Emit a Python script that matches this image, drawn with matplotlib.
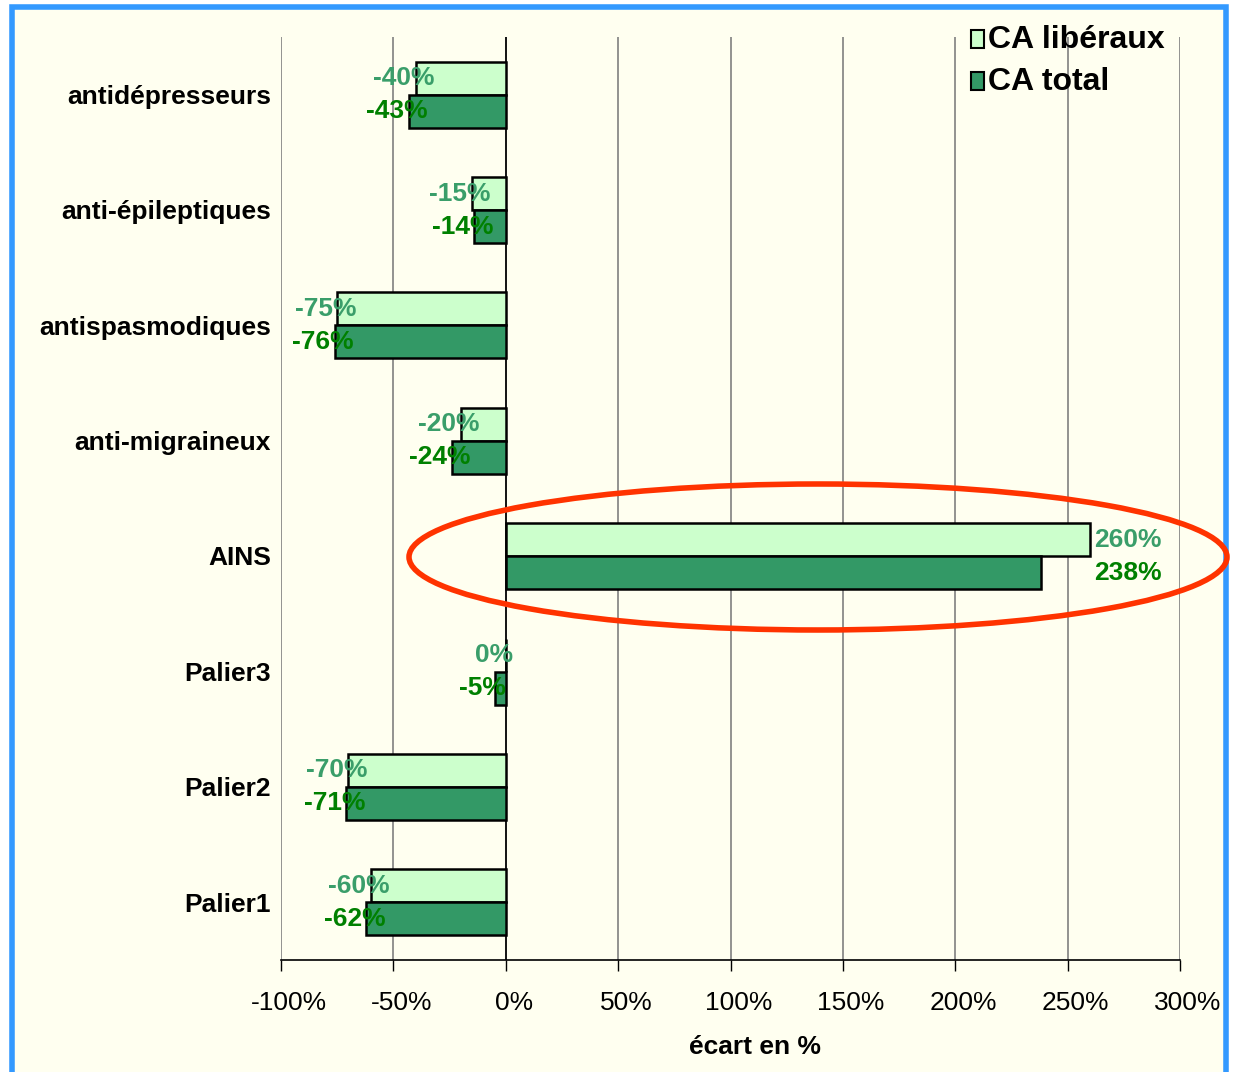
import numpy as np
import matplotlib
matplotlib.use('Agg')
import matplotlib.pyplot as plt
from matplotlib.patches import Rectangle, Ellipse
from matplotlib.transforms import ScaledTranslation

plt.rcParams['font.family'] = ['Liberation Sans', 'DejaVu Sans']

categories = ['antidépresseurs', 'anti-épileptiques', 'antispasmodiques', 'anti-migraineux',
              'AINS', 'Palier3', 'Palier2', 'Palier1']
ca_liberaux = [-40, -15, -75, -20, 260, 0, -70, -60]
ca_total = [-43, -14, -76, -24, 238, -5, -71, -62]
xticks = [-100, -50, 0, 50, 100, 150, 200, 250, 300]

light_fill = '#CCFFCC'
dark_fill = '#339966'
light_txt = '#3A9E6A'
dark_txt = '#008000'

W, H = 1236, 1072
fig = plt.figure(figsize=(W / 100, H / 100), dpi=100)
fig.patch.set_facecolor('white')

# cream panel with blue frame
fig.patches.append(Rectangle((12 / W, -0.01), 1214 / W, 1 - 7 / H + 0.01, transform=fig.transFigure,
                             facecolor='#FFFFF0', edgecolor='#3399FF', linewidth=4, zorder=-10))

ax = fig.add_axes([281 / W, 1 - 960 / H, 899 / W, 923 / H])
ax.set_facecolor('none')

y = np.arange(len(categories))
h = 0.286
lib = np.array(ca_liberaux) / 100
tot = np.array(ca_total) / 100

ax.barh(y - h / 2, lib, height=h, color=light_fill, edgecolor='black', linewidth=1.8, zorder=3)
ax.barh(y + h / 2, tot, height=h, color=dark_fill, edgecolor='black', linewidth=1.8, zorder=3)

fs = 19
for i in range(len(categories)):
    a, b = lib[i], tot[i]
    if max(a, b) > 0.5:
        xp = max(a, b) + 0.02
        ax.text(xp, y[i] - h / 2, f'{ca_liberaux[i]}%', color=light_txt, fontsize=fs, fontweight='bold',
                ha='left', va='center', zorder=4)
        ax.text(xp, y[i] + h / 2, f'{ca_total[i]}%', color=dark_txt, fontsize=fs, fontweight='bold',
                ha='left', va='center', zorder=4)
    else:
        ax.text(a - 0.053, y[i] - h / 2, f'{ca_liberaux[i]}%', color=light_txt, fontsize=fs,
                fontweight='bold', ha='center', va='center', zorder=4)
        ax.text(b - 0.053, y[i] + h / 2, f'{ca_total[i]}%', color=dark_txt, fontsize=fs,
                fontweight='bold', ha='center', va='center', zorder=4)

ax.set_xlim(-1, 3)
ax.set_ylim(len(categories) - 0.5, -0.5)
ax.set_xticks(np.array(xticks) / 100)
ax.set_xticklabels([f'{t}%' for t in xticks], fontsize=19)
ax.set_yticks([])
for i, c in enumerate(categories):
    ax.text(-0.011, y[i] + 0.02, c, transform=ax.get_yaxis_transform(), ha='right', va='center',
            fontsize=19, fontweight='bold')

ax.grid(axis='x', color='#808080', linewidth=1.2, zorder=1)
ax.axvline(0, color='black', linewidth=1.2, zorder=2)
for s in ['top', 'right', 'left']:
    ax.spines[s].set_visible(False)
ax.spines['bottom'].set_linewidth(1.2)
ax.tick_params(axis='x', direction='out', length=8, width=1, pad=14, colors='black')
offset = ScaledTranslation(8 / 100, 0, fig.dpi_scale_trans)
for lab in ax.get_xticklabels():
    lab.set_transform(lab.get_transform() + offset)

fig.text(755 / W, 1 - 1047 / H, 'écart en %', ha='center', va='center', fontsize=19, fontweight='bold')

# legend
for k, (lab, col) in enumerate([('CA libéraux', light_fill), ('CA total', dark_fill)]):
    yc = 40 + 42 * k
    fig.patches.append(Rectangle((971 / W, 1 - (yc + 8) / H), 13 / W, 18 / H, transform=fig.transFigure,
                                 facecolor=col, edgecolor='black', linewidth=1.5, zorder=5))
    fig.text(988 / W, 1 - yc / H, lab, ha='left', va='center', fontsize=23, fontweight='bold', zorder=5)

# red ellipse around AINS
fig.patches.append(Ellipse((818 / W, 1 - 557 / H), 818 / W, 146 / H, angle=0, transform=fig.transFigure,
                           facecolor='none', edgecolor='#FF3300', linewidth=4, zorder=6))

fig.savefig('out.png', dpi=100)
